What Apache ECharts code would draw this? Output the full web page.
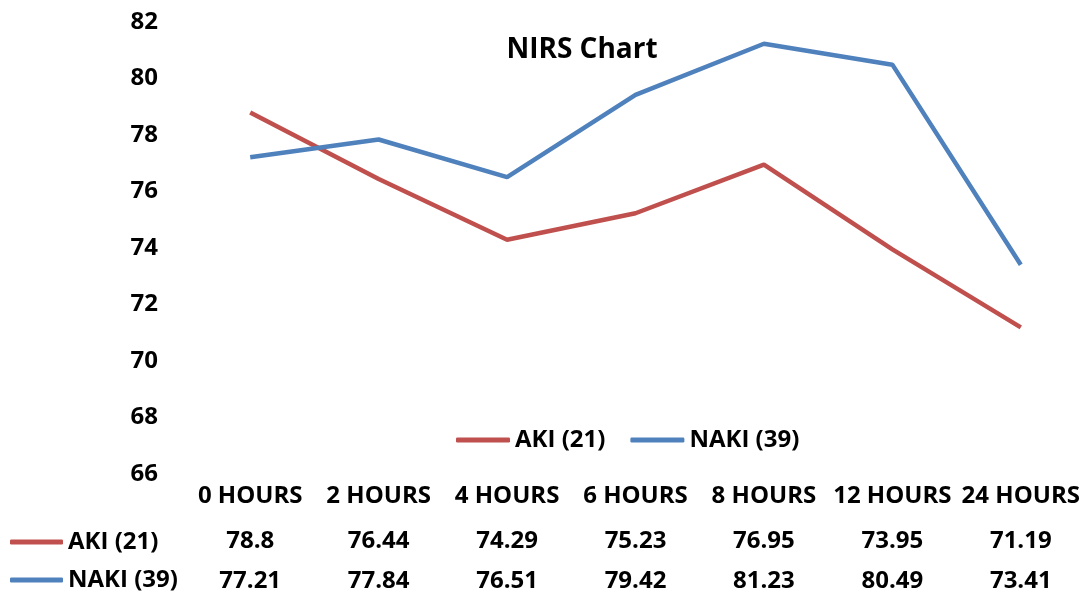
<!DOCTYPE html>
<html>
<head>
<meta charset="utf-8">
<script src="https://cdn.jsdelivr.net/npm/echarts@6/dist/echarts.min.js"></script>
<style>html,body{margin:0;padding:0;background:#fff}#c{width:1085px;height:594px}</style>
</head>
<body>
<div id="c"></div>
<script>
var categories = ['0 HOURS', '2 HOURS', '4 HOURS', '6 HOURS', '8 HOURS', '12 HOURS', '24 HOURS'];
var akiValues = [78.8, 76.44, 74.29, 75.23, 76.95, 73.95, 71.19];
var nakiValues = [77.21, 77.84, 76.51, 79.42, 81.23, 80.49, 73.41];
var akiLabels = ['78.8', '76.44', '74.29', '75.23', '76.95', '73.95', '71.19'];
var nakiLabels = ['77.21', '77.84', '76.51', '79.42', '81.23', '80.49', '73.41'];
var seriesNames = ['AKI (21)', 'NAKI (39)'];

var FONT = 'Open Sans';
var txt = {fontFamily: FONT, fontWeight: 'bold', fontSize: 24, color: '#000'};
function hiddenAxis(extra) {
  return Object.assign({
    type: 'category', data: categories, gridIndex: 0, position: 'bottom',
    axisLine: {show: false}, axisTick: {show: false}, splitLine: {show: false}
  }, extra);
}
var chart = echarts.init(document.getElementById('c'));
chart.setOption({
  animation: false,
  color: ['#C0504D', '#4F81BD'],
  title: {
    text: 'NIRS Chart', left: 577, top: 31, textAlign: 'center',
    textStyle: {fontFamily: FONT, fontWeight: 'bold', fontSize: 28, color: '#000'}
  },
  legend: [{
    data: seriesNames, left: 451, top: 423, orient: 'horizontal', icon: 'roundRect',
    itemWidth: 54, itemHeight: 5, itemGap: 25, selectedMode: false,
    textStyle: Object.assign({}, txt)
  }, {
    data: seriesNames, left: 5, top: 525, height: 100, orient: 'vertical', icon: 'roundRect',
    itemWidth: 53, itemHeight: 5, itemGap: 14, selectedMode: false,
    textStyle: Object.assign({}, txt)
  }],
  grid: {left: 186, width: 903, top: 22, height: 452, containLabel: false},
  xAxis: [
    hiddenAxis({axisLabel: Object.assign({margin: 10, interval: 0}, txt)}),
    hiddenAxis({offset: 45, axisLabel: Object.assign({margin: 10, interval: 0,
      formatter: function (v, i) { return akiLabels[i]; }}, txt)}),
    hiddenAxis({offset: 85, axisLabel: Object.assign({margin: 10, interval: 0,
      formatter: function (v, i) { return nakiLabels[i]; }}, txt)})
  ],
  yAxis: {
    type: 'value', min: 66, max: 82, interval: 2,
    axisLine: {show: false}, axisTick: {show: false}, splitLine: {show: false},
    axisLabel: Object.assign({margin: 28}, txt)
  },
  series: [{
    name: seriesNames[0], type: 'line', data: akiValues, symbol: 'none',
    lineStyle: {width: 4.5, color: '#C0504D'}, itemStyle: {color: '#C0504D'}
  }, {
    name: seriesNames[1], type: 'line', data: nakiValues, symbol: 'none',
    lineStyle: {width: 4.5, color: '#4F81BD'}, itemStyle: {color: '#4F81BD'}
  }]
});
</script>
</body>
</html>
